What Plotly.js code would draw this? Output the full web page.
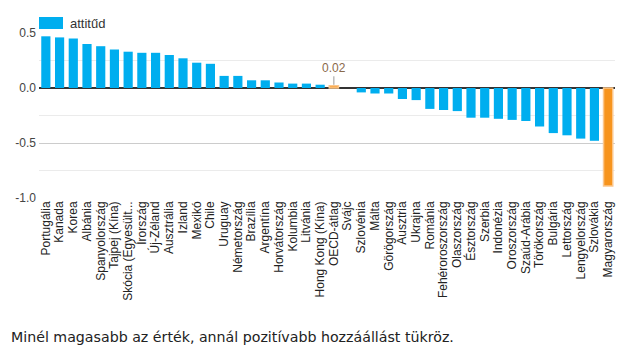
<!DOCTYPE html>
<html>
<head>
<meta charset="utf-8">
<script src="https://cdn.plot.ly/plotly-3.0.1.min.js"></script>
<style>
html,body{margin:0;padding:0;background:#fff;}
#chart{width:640px;height:353px;}
</style>
</head>
<body>
<div id="chart"></div>
<script>
const categories = ['Portugália','Kanada','Korea','Albánia','Spanyolország','Tajpej (Kína)','Skócia (Egyesült...','Írország','Új-Zéland','Ausztrália','Izland','Mexikó','Chile','Uruguay','Németország','Brazília','Argentína','Horvátország','Kolumbia','Litvánia','Hong Kong (Kína)','OECD-átlag','Svájc','Szlovénia','Málta','Görögország','Ausztria','Ukrajna','Románia','Fehéroroszország','Olaszország','Észtország','Szerbia','Indonézia','Oroszország','Szaúd-Arábia','Törökország','Bulgária','Lettország','Lengyelország','Szlovákia','Magyarország'];
const values = [0.47,0.46,0.45,0.40,0.38,0.35,0.33,0.32,0.32,0.30,0.27,0.23,0.22,0.11,0.11,0.07,0.07,0.05,0.04,0.04,0.03,0.02,0.00,-0.04,-0.05,-0.05,-0.10,-0.11,-0.19,-0.20,-0.21,-0.27,-0.27,-0.28,-0.29,-0.30,-0.35,-0.41,-0.43,-0.46,-0.48,-0.89];
const highlighted = ['OECD-átlag','Magyarország'];
const labelled = ['OECD-átlag'];
const seriesName = 'attitűd';
const yTicks = [-1.0,-0.5,0.0,0.5];
const yTickText = ['-1.0','-0.5','0.0','0.5'];
const caption = 'Minél magasabb az érték, annál pozitívabb hozzáállást tükröz.';

const BLUE = '#00AEEF', ORANGE = '#F7941D', ORANGE_LINE = '#FBC68C';
const isHi = categories.map(c => highlighted.includes(c));

const trace = {
  type: 'bar',
  x: categories,
  y: values,
  name: seriesName,
  marker: {
    color: isHi.map(h => h ? ORANGE : BLUE),
    line: { color: isHi.map(h => h ? ORANGE_LINE : BLUE), width: isHi.map(h => h ? 1.5 : 0) }
  },
  hoverinfo: 'x+y',
  showlegend: false
};

const annotations = labelled.map(c => {
  const i = categories.indexOf(c);
  return {
    x: c, y: values[i], xref: 'x', yref: 'y',
    text: values[i].toFixed(2),
    showarrow: true, arrowhead: 0, arrowwidth: 1, arrowcolor: '#999',
    ax: 0, ay: -18, standoff: 1,
    font: { family: 'Liberation Sans, Arial, sans-serif', size: 12, color: '#8a6a4a' }
  };
});
annotations.push({
  xref: 'paper', yref: 'paper', x: 0, y: 1, xanchor: 'left', yanchor: 'middle',
  xshift: 29, yshift: 10,
  text: seriesName, showarrow: false,
  font: { family: 'Liberation Sans, Arial, sans-serif', size: 13, color: '#333' }
});
annotations.push({
  xref: 'paper', yref: 'paper', x: 0, y: 0, xanchor: 'left', yanchor: 'middle',
  xshift: -30, yshift: -139,
  text: caption, showarrow: false,
  font: { family: 'DejaVu Sans, Verdana, sans-serif', size: 14.2, color: '#222' }
});

const layout = {
  width: 640, height: 353,
  margin: { l: 39, r: 25, t: 33, b: 155 },
  paper_bgcolor: '#fff', plot_bgcolor: '#fff',
  bargap: 0.33,
  showlegend: false,
  font: { family: 'Liberation Sans, Arial, sans-serif', color: '#333' },
  xaxis: {
    type: 'category',
    tickmode: 'array', tickvals: categories, ticktext: categories,
    tickangle: -90,
    tickfont: { size: 12, color: '#222' },
    showgrid: false, zeroline: false, showline: false, ticks: '',
    automargin: false
  },
  yaxis: {
    range: [-1.0, 0.5],
    tickvals: yTicks, ticktext: yTickText,
    tickfont: { size: 12, color: '#444' },
    showgrid: true, gridcolor: '#cccccc', gridwidth: 1,
    minor: { dtick: 0.25, tick0: 0, showgrid: true, gridcolor: '#ebebeb', gridwidth: 1 },
    zeroline: true, zerolinecolor: '#333', zerolinewidth: 2,
    ticks: '', ticklabelstandoff: 2,
    automargin: false
  },
  shapes: [{
    type: 'rect', xref: 'paper', yref: 'paper',
    x0: 0, x1: 24 / 576, y0: 1, y1: 1,
    ysizemode: 'pixel', yanchor: 1,
    line: { width: 0 }, fillcolor: BLUE
  }],
  annotations: annotations
};
layout.shapes[0].y0 = 4; layout.shapes[0].y1 = 16;

Plotly.newPlot('chart', [trace], layout, { displayModeBar: false, staticPlot: true });
</script>
</body>
</html>
